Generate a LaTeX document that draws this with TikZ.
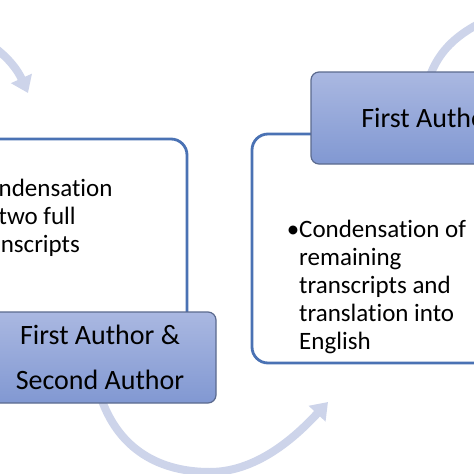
\documentclass[tikz,border=0pt]{standalone}
\usepackage{fontspec}
\setmainfont{Carlito}[Ligatures=NoCommon]
\usetikzlibrary{arrows.meta}

\definecolor{boxline}{HTML}{4A72B4}
\definecolor{headtop}{HTML}{AAB8E1}
\definecolor{headbot}{HTML}{8198D2}
\definecolor{headline}{HTML}{5B6A8E}
\definecolor{arrowblue}{HTML}{CDD4EA}

\begin{document}
\begin{tikzpicture}[x=1pt,y=-1pt,
	bodybox/.style={draw=boxline, line width=2.8pt, fill=white, rounded corners=16pt, inner sep=0pt},
	headbox/.style={draw=headline, line width=1.2pt, top color=headtop, bottom color=headbot,
		rounded corners=8pt, inner sep=0pt, align=center, font=\fontsize{28}{45}\selectfont},
	bodytext/.style={align=left, inner sep=0pt, font=\fontsize{25}{28}\selectfont},
	looparrow/.style={draw=arrowblue, line width=8pt, -{Triangle[width=22pt,length=16pt]}},
	loopline/.style={draw=arrowblue, line width=8pt}]
	\useasboundingbox (0,0) rectangle (474,474);
	\clip (0,0) rectangle (474,474);
	\fill[white] (0,0) rectangle (474,474);
	% cycle arrows, under the boxes
	\coordinate (topin) at (-30,32);
	\coordinate (topend) at (28,93);
	\coordinate (outend) at (510,10);
	\coordinate (botend) at (328,402);
	\coordinate (botmid) at (210,472);
	\draw[looparrow] (topin) .. controls (-5,45) and (14,62) .. (topend);
	\draw[loopline] (428.5,80) .. controls (440,45) and (465,27) .. (outend);
	\draw[looparrow] (100,395) .. controls (118,450) and (160,472) .. (botmid)
		.. controls (260,472) and (300,432) .. (botend);
	% boxes
	\node[bodybox, minimum width=357pt, minimum height=231pt] (leftbox) at (8.5,254.5) {};
	\node[bodybox, minimum width=308pt, minimum height=229pt] (rightbox) at (406,248.5) {};
	\node[headbox, minimum width=235pt, minimum height=92pt] (righthead) at (428.5,118) {First Author};
	\node[headbox, minimum width=232pt, minimum height=91pt] (lefthead) at (100,357.5) {First Author \&\\Second Author};
	% texts
	\node[bodytext, anchor=base west] (leftnote) at (-28,252)
		{\llap{•}Condensation\\of two full\\transcripts};
	\node[bodytext, anchor=base west] (rightnote) at (299,349)
		{\llap{•}Condensation of\\remaining\\transcripts and\\translation into\\English};
\end{tikzpicture}
\end{document}
